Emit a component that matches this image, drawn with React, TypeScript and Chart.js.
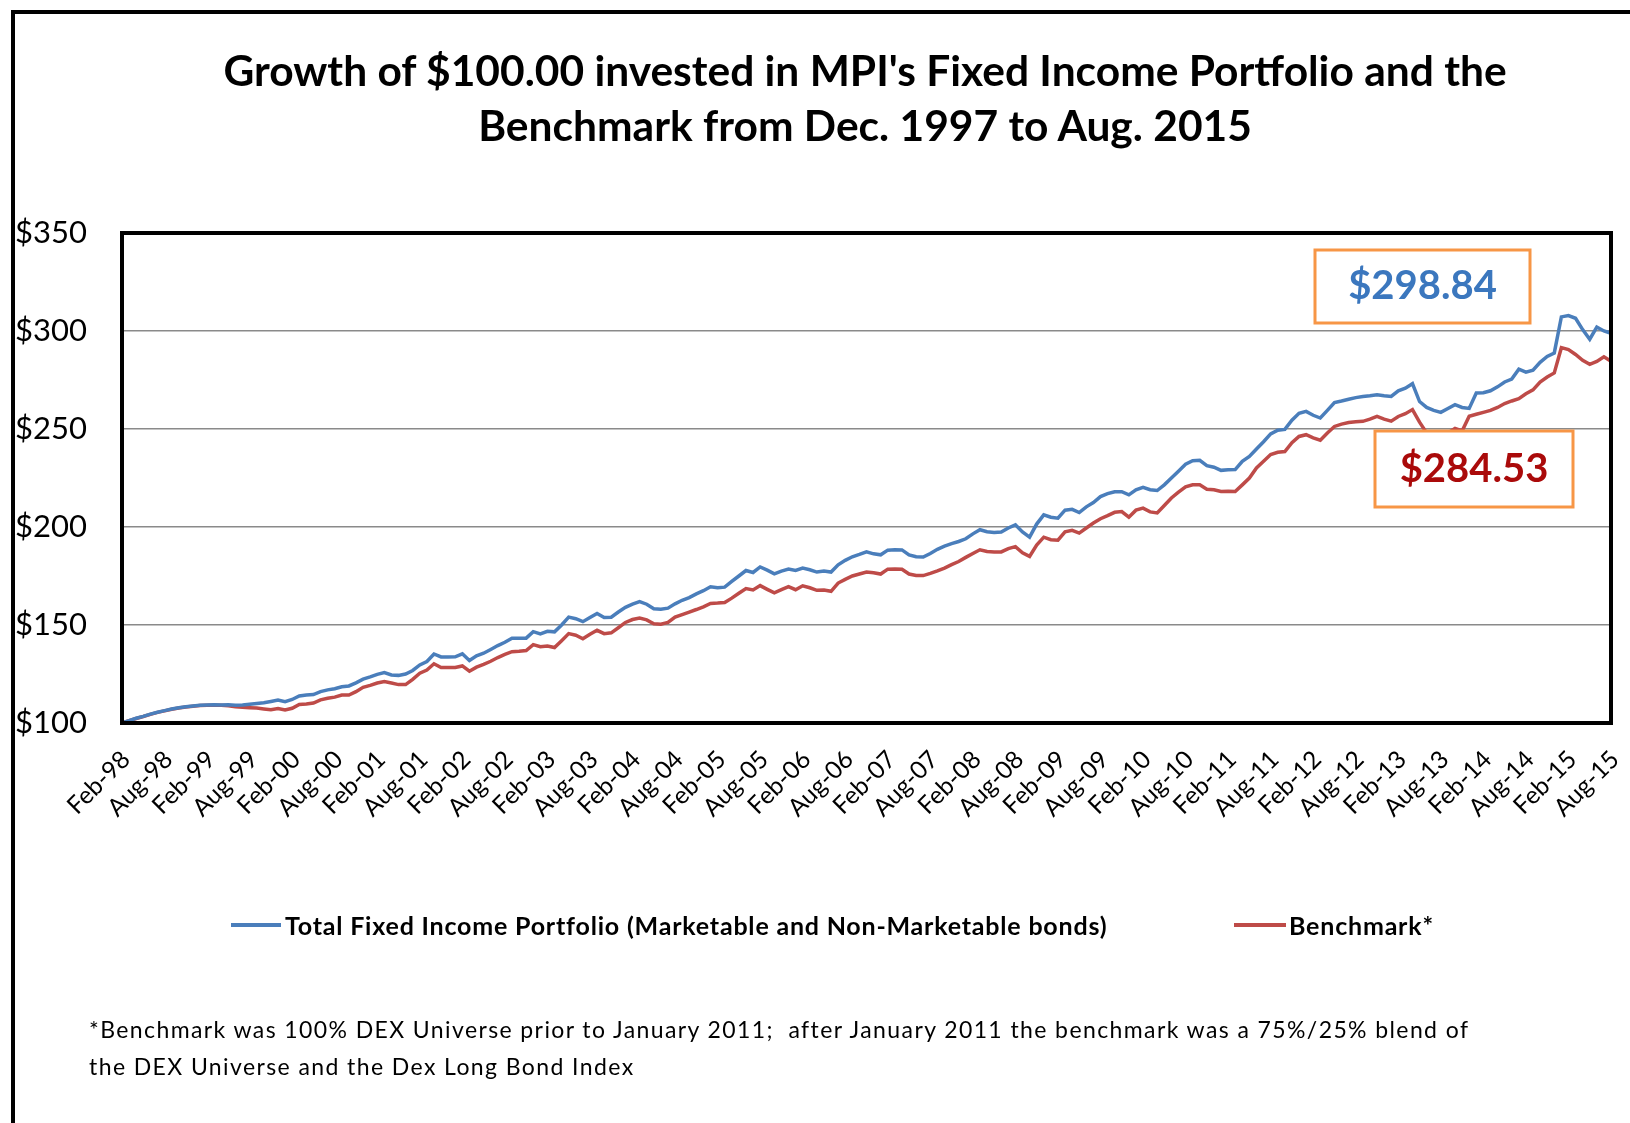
import React, { useEffect, useRef } from "react";
import { Chart, registerables } from "chart.js";

Chart.register(...registerables);

const TITLE_LINES = [
  "Growth of $100.00 invested in MPI's Fixed Income Portfolio and the",
  "Benchmark from Dec. 1997 to Aug. 2015",
];

const MONTHS = ["Jan", "Feb", "Mar", "Apr", "May", "Jun", "Jul", "Aug", "Sep", "Oct", "Nov", "Dec"];
const START_YEAR = 1998;
const START_MONTH = 1; // Feb
const N_POINTS = 211; // Feb-98 .. Aug-15

const categories: string[] = [];
for (let i = 0; i < N_POINTS; i++) {
  const m = (START_MONTH + i) % 12;
  const y = START_YEAR + Math.floor((START_MONTH + i) / 12);
  categories.push(MONTHS[m] + "-" + String(y % 100).padStart(2, "0"));
}

const SERIES_NAMES = [
  "Total Fixed Income Portfolio (Marketable and Non-Marketable bonds)",
  "Benchmark*",
];

const portfolio = [
  100.0, 101.2, 102.4, 103.4, 104.5, 105.5, 106.3, 107.1, 107.8, 108.3,
  108.7, 109.0, 109.2, 109.3, 109.2, 109.3, 109.1, 109.2, 109.6, 110.0,
  110.3, 111.0, 111.7, 110.9, 112.0, 113.8, 114.3, 114.5, 116.0, 116.9,
  117.5, 118.5, 118.9, 120.5, 122.4, 123.5, 124.8, 125.7, 124.5, 124.3,
  125.0, 126.8, 129.6, 131.4, 135.2, 133.7, 133.7, 133.8, 135.3, 131.9,
  134.3, 135.6, 137.5, 139.5, 141.2, 143.3, 143.3, 143.3, 146.6, 145.5,
  146.8, 146.5, 150.0, 154.0, 153.2, 151.7, 153.8, 155.9, 153.8, 154.0,
  156.6, 159.0, 160.6, 161.9, 160.6, 158.3, 158.1, 158.6, 160.8, 162.6,
  164.0, 165.9, 167.5, 169.5, 169.0, 169.3, 172.2, 175.0, 177.8, 176.8,
  179.6, 178.0, 176.1, 177.5, 178.5, 177.8, 179.0, 178.2, 177.0, 177.5,
  177.0, 180.7, 183.0, 184.8, 186.0, 187.3, 186.3, 185.8, 188.2, 188.4,
  188.3, 185.8, 184.8, 184.7, 186.5, 188.6, 190.2, 191.5, 192.6, 194.0,
  196.5, 198.6, 197.6, 197.2, 197.4, 199.5, 201.1, 197.5, 194.8, 201.5,
  206.2, 205.0, 204.5, 208.6, 209.0, 207.4, 210.3, 212.5, 215.5, 217.0,
  218.0, 218.0, 216.4, 219.0, 220.2, 219.0, 218.6, 221.5, 225.0, 228.5,
  232.0, 233.8, 234.0, 231.3, 230.5, 228.9, 229.2, 229.3, 233.5, 236.0,
  239.8, 243.5, 247.5, 249.4, 249.8, 254.5, 258.0, 259.0, 257.0, 255.6,
  259.5, 263.5, 264.3, 265.2, 266.0, 266.6, 267.0, 267.5, 267.0, 266.6,
  269.5, 270.8, 273.1, 264.0, 261.0, 259.5, 258.5, 260.5, 262.4, 261.0,
  260.5, 268.4, 268.5, 269.5, 271.5, 274.0, 275.5, 280.5, 279.0, 280.0,
  284.0, 287.0, 288.8, 307.2, 307.9, 306.5, 300.7, 295.8, 302.0, 300.0,
  298.84,
];

const benchmark = [
  100.0, 101.2, 102.3, 103.3, 104.4, 105.4, 106.2, 107.0, 107.7, 108.2,
  108.6, 108.9, 109.1, 109.1, 109.0, 108.8, 108.3, 108.0, 107.8, 107.6,
  107.2, 106.8, 107.4, 106.6, 107.5, 109.5, 109.7, 110.2, 111.8, 112.6,
  113.2, 114.3, 114.3, 116.0, 118.2, 119.2, 120.4, 121.1, 120.4, 119.6,
  119.6, 122.3, 125.4, 127.0, 130.2, 128.3, 128.3, 128.3, 129.1, 126.4,
  128.5, 129.9, 131.5, 133.4, 135.0, 136.4, 136.6, 137.0, 140.0, 138.9,
  139.3, 138.5, 142.0, 145.6, 144.8, 143.0, 145.3, 147.3, 145.6, 146.0,
  148.6, 151.3, 152.8, 153.5, 152.6, 150.6, 150.4, 151.3, 154.0, 155.3,
  156.6, 157.9, 159.3, 161.0, 161.2, 161.5, 163.7, 166.2, 168.6, 167.9,
  170.1, 168.2, 166.4, 168.0, 169.6, 168.0, 170.0, 169.0, 167.7, 167.9,
  167.2, 171.4, 173.3, 175.0, 176.0, 177.0, 176.7, 176.0, 178.5, 178.6,
  178.4, 176.0, 175.3, 175.2, 176.3, 177.6, 179.0, 180.8, 182.4, 184.5,
  186.5, 188.4, 187.5, 187.2, 187.3, 189.0, 190.0, 186.8, 185.0, 190.8,
  194.8, 193.5, 193.3, 197.5, 198.3, 196.9, 199.5, 202.0, 204.2, 205.8,
  207.5, 207.9, 205.0, 208.6, 209.6, 207.7, 207.2, 211.0, 214.8, 217.8,
  220.5, 221.5, 221.5, 219.3, 219.0, 218.1, 218.3, 218.1, 221.5, 225.0,
  230.1, 233.5, 237.0, 238.1, 238.5, 243.0, 246.2, 247.1, 245.5, 244.3,
  248.0, 251.3, 252.5, 253.3, 253.7, 253.9, 255.0, 256.4, 255.0, 254.0,
  256.4, 257.8, 259.9, 253.5, 248.0, 246.0, 245.5, 248.0, 250.3, 249.0,
  256.5, 257.5, 258.5, 259.5, 261.0, 263.0, 264.3, 265.5, 268.0, 270.0,
  274.0, 276.5, 278.6, 291.5, 290.5, 288.0, 285.0, 283.0, 284.5, 286.8,
  284.53,
];

const Y_MIN = 100;
const Y_MAX = 350;
const Y_STEP = 50;
const LABEL_EVERY = 6;

const CALLOUTS = [
  { text: "$298.84", color: "#3B77BE", box: [1315, 250, 1530, 323] },
  { text: "$284.53", color: "#AA0A0A", box: [1375, 431, 1573, 507] },
];

const FOOTNOTE_LINES = [
  "*Benchmark was 100% DEX Universe prior to January 2011;  after January 2011 the benchmark was a 75%/25% blend of",
  "the DEX Universe and the Dex Long Bond Index",
];

const BLUE = "#4A7EBB";
const RED = "#BE4B48";
const FONT = "Lato, 'Open Sans', sans-serif";

const frameAndCallouts = {
  id: "frameAndCallouts",
  afterDatasetsDraw(chart: any) {
    const { ctx, chartArea } = chart;
    ctx.save();
    ctx.strokeStyle = "#000";
    ctx.lineWidth = 4;
    ctx.strokeRect(chartArea.left, chartArea.top, chartArea.right - chartArea.left, chartArea.bottom - chartArea.top);
    for (const c of CALLOUTS) {
      const [x1, y1, x2, y2] = c.box;
      ctx.fillStyle = "#fff";
      ctx.fillRect(x1, y1, x2 - x1, y2 - y1);
      ctx.strokeStyle = "#F79646";
      ctx.lineWidth = 3;
      ctx.strokeRect(x1, y1, x2 - x1, y2 - y1);
      ctx.fillStyle = c.color;
      ctx.font = "bold 40px " + FONT;
      ctx.textAlign = "center";
      ctx.textBaseline = "middle";
      ctx.fillText(c.text, (x1 + x2) / 2, (y1 + y2) / 2);
    }
    ctx.restore();
  },
};

export default function App() {
  const canvasRef = useRef<HTMLCanvasElement | null>(null);

  useEffect(() => {
    const canvas = canvasRef.current;
    if (!canvas) return;
    const chart = new Chart(canvas, {
      type: "line",
      data: {
        labels: categories,
        datasets: [
          {
            label: SERIES_NAMES[0],
            data: portfolio,
            borderColor: BLUE,
            backgroundColor: BLUE,
            borderWidth: 3.5,
            pointRadius: 0,
            tension: 0,
          },
          {
            label: SERIES_NAMES[1],
            data: benchmark,
            borderColor: RED,
            backgroundColor: RED,
            borderWidth: 3.5,
            pointRadius: 0,
            tension: 0,
          },
        ],
      },
      options: {
        animation: false,
        responsive: false,
        devicePixelRatio: 1,
        layout: { padding: { left: 15, right: 19, top: 233, bottom: 280 } },
        plugins: {
          legend: { display: false },
          tooltip: { enabled: false },
          title: { display: false },
        },
        scales: {
          x: {
            type: "category",
            grid: { display: false, drawTicks: false },
            border: { display: false },
            ticks: {
              autoSkip: false,
              minRotation: 45,
              maxRotation: 45,
              padding: 22,
              labelOffset: 4,
              color: "#000",
              font: { family: FONT, size: 24.5 },
              callback: (_v: any, i: number) => (i % LABEL_EVERY === 0 ? categories[i] : null),
            },
            afterFit: (s: any) => {
              s.height = 120;
              s.paddingLeft = 0;
              s.paddingRight = 0;
            },
          },
          y: {
            min: Y_MIN,
            max: Y_MAX,
            grid: { color: "#8a8a8a", lineWidth: 1.5, drawTicks: false },
            border: { display: false },
            ticks: {
              stepSize: Y_STEP,
              crossAlign: "far",
              color: "#000",
              font: { family: FONT, size: 31 },
              callback: (v: any) => "$" + v,
            },
            afterFit: (s: any) => {
              s.width = 107;
            },
          },
        },
      },
      plugins: [frameAndCallouts],
    });
    return () => chart.destroy();
  }, []);

  const legendText: React.CSSProperties = {
    position: "absolute",
    top: 925,
    transform: "translateY(-50%)",
    fontFamily: FONT,
    fontWeight: 700,
    fontSize: 25,
    letterSpacing: 0.8,
    whiteSpace: "pre",
    color: "#000",
    lineHeight: 1,
  };

  const titleStyle: React.CSSProperties = {
    position: "absolute",
    left: 865,
    transform: "translate(-50%, -50%)",
    fontFamily: FONT,
    fontWeight: 700,
    fontSize: 42.5,
    whiteSpace: "pre",
    color: "#000",
    lineHeight: 1,
  };

  return (
    <div style={{ position: "absolute", left: 0, top: 0, width: 1630, height: 1123, background: "#fff", overflow: "hidden" }}>
      <div style={{ position: "absolute", left: 11, top: 10, width: 1640, height: 1140, borderTop: "4px solid #000", borderLeft: "4px solid #000" }} />
      <canvas ref={canvasRef} width={1630} height={1123} style={{ position: "absolute", left: 0, top: 0 }} />
      {TITLE_LINES.map((t, i) => (
        <div key={"t" + i} style={{ ...titleStyle, top: 70 + i * 55 }}>
          {t}
        </div>
      ))}
      <div style={{ position: "absolute", left: 231, top: 923, width: 50, height: 4, background: BLUE }} />
      <div style={{ ...legendText, left: 285 }}>{SERIES_NAMES[0]}</div>
      <div style={{ position: "absolute", left: 1234, top: 923, width: 52, height: 4, background: RED }} />
      <div style={{ ...legendText, left: 1289 }}>{SERIES_NAMES[1]}</div>
      {FOOTNOTE_LINES.map((t, i) => (
        <div
          key={i}
          style={{
            position: "absolute",
            left: 89,
            top: 1029 + i * 37,
            transform: "translateY(-50%)",
            fontFamily: FONT,
            fontSize: 23,
            letterSpacing: 1.4,
            whiteSpace: "pre",
            color: "#000",
            lineHeight: 1,
          }}
        >
          {t}
        </div>
      ))}
    </div>
  );
}
